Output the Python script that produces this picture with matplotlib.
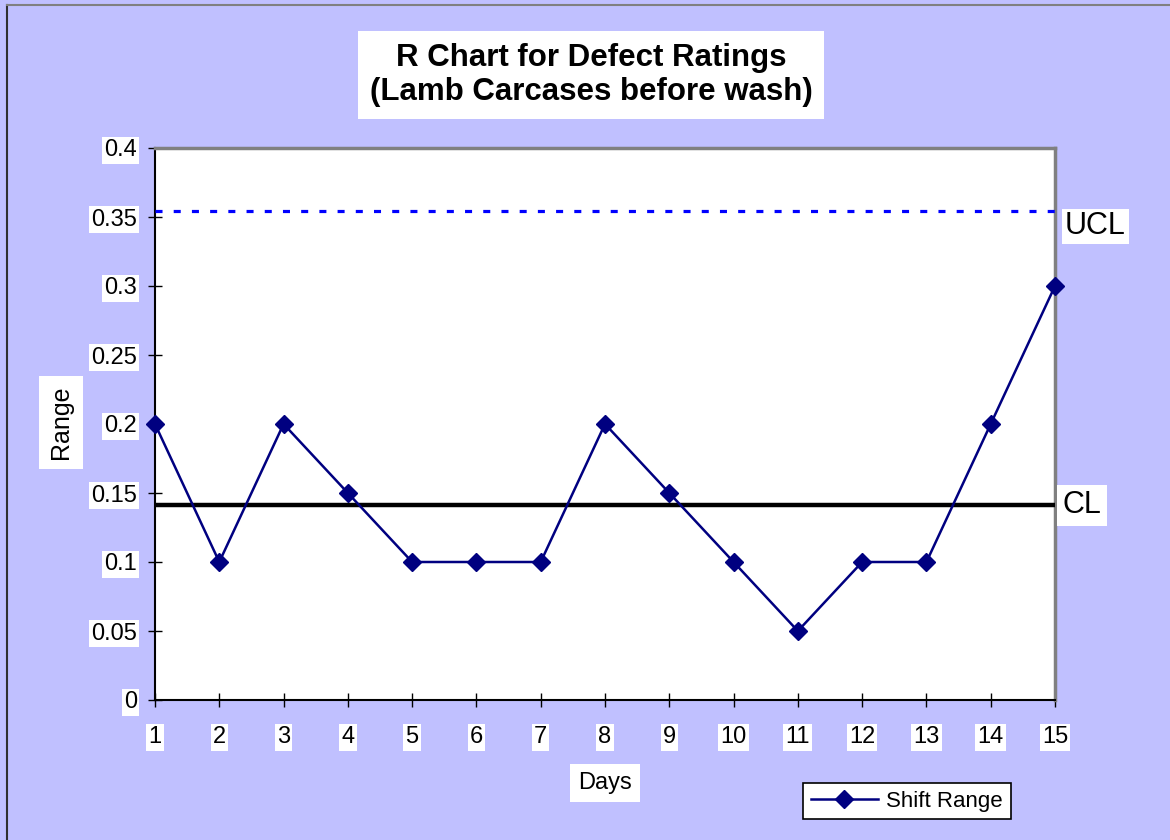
import matplotlib
matplotlib.use("Agg")
import matplotlib.pyplot as plt
from matplotlib.lines import Line2D

days = list(range(1, 16))
shift_range = [0.2, 0.1, 0.2, 0.15, 0.1, 0.1, 0.1, 0.2, 0.15, 0.1, 0.05, 0.1, 0.1, 0.2, 0.3]
ucl = 0.354
cl = 0.141
yticks = [0, 0.05, 0.1, 0.15, 0.2, 0.25, 0.3, 0.35, 0.4]
ytick_labels = ["0", "0.05", "0.1", "0.15", "0.2", "0.25", "0.3", "0.35", "0.4"]

plt.rcParams['font.family'] = ['Liberation Sans', 'DejaVu Sans']

bg = '#C0C0FF'
fig = plt.figure(figsize=(11.7, 8.4), dpi=100)
fig.patch.set_facecolor(bg)

# outer border
fig.add_artist(Line2D([7/1170, 7/1170], [0, 1 - 5/840], transform=fig.transFigure, color='#303030', lw=1.5))
fig.add_artist(Line2D([7/1170, 1], [1 - 5/840, 1 - 5/840], transform=fig.transFigure, color='#808080', lw=1.5))

ax = fig.add_axes([155/1170, 1 - 700/840, 900/1170, 552/840])
ax.set_facecolor('white')
ax.set_xlim(1, 15)
ax.set_ylim(0, 0.4)

ax.plot(days, shift_range, color='#000080', lw=1.8, marker='D', markersize=9,
        markerfacecolor='#000080', markeredgecolor='#000080', label='Shift Range', zorder=4, clip_on=False)
ax.axhline(ucl, color='#0000FF', lw=2.3, linestyle=(0, (2.2, 3.5)), zorder=3)
ax.axhline(cl, color='black', lw=3.2, zorder=3)

for s in ['left', 'bottom']:
    ax.spines[s].set_color('black')
    ax.spines[s].set_linewidth(1.5)
for s in ['top', 'right']:
    ax.spines[s].set_color('#808080')
    ax.spines[s].set_linewidth(2.5)

ax.set_yticks(yticks)
ax.set_yticklabels(ytick_labels)
ax.set_xticks(days)
ax.set_xticklabels([str(d) for d in days])
ax.tick_params(axis='both', direction='inout', length=10, width=1, colors='black', labelsize=17)
ax.tick_params(axis='x', pad=14)
ax.tick_params(axis='y', pad=8)
for lab in ax.get_xticklabels() + ax.get_yticklabels():
    lab.set_bbox(dict(facecolor='white', edgecolor='none', pad=1.5))

ax.set_xlabel('Days', fontsize=17, bbox=dict(facecolor='white', edgecolor='none', pad=6))
ax.xaxis.set_label_coords((605 - 155) / 900, -(783 - 700) / 552)
ax.xaxis.label.set_va('center')
ax.set_ylabel('Range', fontsize=18, bbox=dict(facecolor='white', edgecolor='none', pad=7))
ax.yaxis.set_label_coords(-(155 - 61) / 900, (700 - 422) / 552)
ax.yaxis.label.set_va('center')

fig.text(591/1170, 1 - 75/840, 'R Chart for Defect Ratings\n(Lamb Carcases before wash)',
         ha='center', va='center', fontsize=22.5, fontweight='bold', linespacing=1.2,
         bbox=dict(facecolor='white', edgecolor='none', pad=8))

ax.text(1.011, ucl, 'UCL', transform=ax.get_yaxis_transform(), ha='left', va='top',
        fontsize=22, bbox=dict(facecolor='white', edgecolor='none', pad=2))
ax.text(1.008, cl, 'CL', transform=ax.get_yaxis_transform(), ha='left', va='center',
        fontsize=22, bbox=dict(facecolor='white', edgecolor='none', pad=4))

leg = fig.legend(loc='center', bbox_to_anchor=(907/1170, 1 - 801/840), fontsize=16,
                 frameon=True, fancybox=False, edgecolor='black', framealpha=1,
                 handlelength=3, borderpad=0.35, handletextpad=0.4)
leg.get_frame().set_linewidth(1.2)

fig.savefig('out.png', dpi=100, facecolor=bg)
